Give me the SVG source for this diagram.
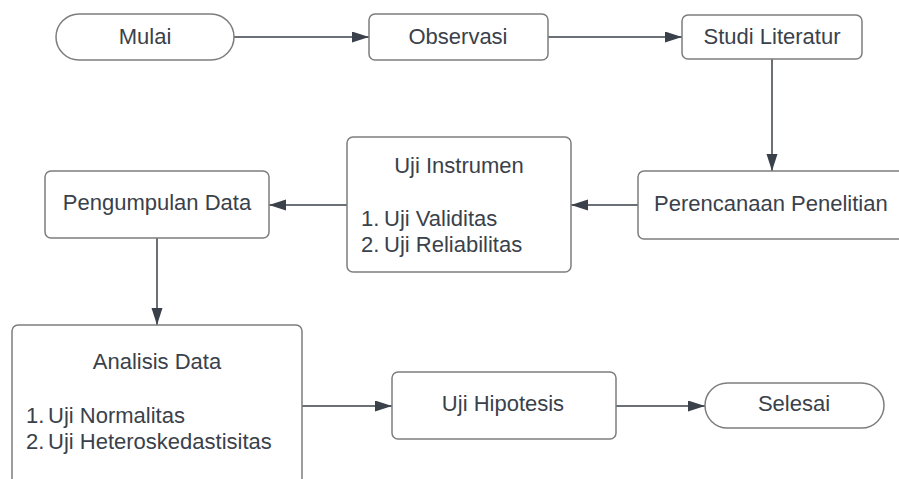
<svg xmlns="http://www.w3.org/2000/svg" width="899" height="479" viewBox="0 0 899 479">
<style>
.box{fill:#fff;stroke:#7d7d7d;stroke-width:1.5}
.t{font-family:"Liberation Sans",Arial,sans-serif;font-size:22px;fill:#3a414a}
.c{text-anchor:middle}
.ln{fill:none;stroke:#3a414a;stroke-width:1.5}
</style>
<defs>
<marker id="ah" markerUnits="userSpaceOnUse" markerWidth="18" markerHeight="12" refX="17" refY="5.5" orient="auto">
<path d="M0,0 L17,5.5 L0,11 Z" fill="#3a414a"/>
</marker>
</defs>
<rect width="899" height="479" fill="#fff"/>
<g id="connectors">
<line class="ln" x1="234" y1="37" x2="369" y2="37" marker-end="url(#ah)"/>
<line class="ln" x1="548" y1="37" x2="682" y2="37" marker-end="url(#ah)"/>
<line class="ln" x1="772" y1="59" x2="772" y2="171" marker-end="url(#ah)"/>
<line class="ln" x1="638" y1="205" x2="571" y2="205" marker-end="url(#ah)"/>
<line class="ln" x1="347" y1="205" x2="269" y2="205" marker-end="url(#ah)"/>
<line class="ln" x1="157" y1="238" x2="157" y2="325" marker-end="url(#ah)"/>
<line class="ln" x1="302" y1="406" x2="392" y2="406" marker-end="url(#ah)"/>
<line class="ln" x1="616" y1="406" x2="705" y2="406" marker-end="url(#ah)"/>
</g>
<g id="mulai">
<rect class="box" x="56" y="14" width="178" height="46" rx="23" ry="23"/>
<text class="t c" x="145" y="44">Mulai</text>
</g>
<g id="observasi">
<rect class="box" x="369" y="14" width="179" height="46" rx="6"/>
<text class="t c" x="458" y="44">Observasi</text>
</g>
<g id="studi-literatur">
<rect class="box" x="682" y="15" width="180" height="44" rx="6"/>
<text class="t c" x="772" y="44">Studi Literatur</text>
</g>
<g id="perencanaan">
<rect class="box" x="638" y="171" width="275" height="68" rx="6"/>
<text class="t" x="654" y="211">Perencanaan Penelitian</text>
</g>
<g id="uji-instrumen">
<rect class="box" x="347" y="137" width="224" height="135" rx="6"/>
<text class="t c" x="459" y="173">Uji Instrumen</text>
<text class="t" x="361" y="226">1.</text><text class="t" x="384" y="226">Uji Validitas</text>
<text class="t" x="361" y="252">2.</text><text class="t" x="384" y="252">Uji Reliabilitas</text>
</g>
<g id="pengumpulan">
<rect class="box" x="45" y="171" width="224" height="67" rx="6"/>
<text class="t c" x="157" y="210">Pengumpulan Data</text>
</g>
<g id="analisis">
<rect class="box" x="12" y="325" width="290" height="170" rx="6"/>
<text class="t c" x="157" y="369">Analisis Data</text>
<text class="t" x="26" y="423">1.</text><text class="t" x="48" y="423">Uji Normalitas</text>
<text class="t" x="26" y="449">2.</text><text class="t" x="48" y="449">Uji Heteroskedastisitas</text>
</g>
<g id="uji-hipotesis">
<rect class="box" x="392" y="372" width="224" height="67" rx="6"/>
<text class="t c" x="503" y="411">Uji Hipotesis</text>
</g>
<g id="selesai">
<rect class="box" x="705" y="383" width="179" height="45" rx="22.5" ry="22.5"/>
<text class="t c" x="794" y="411">Selesai</text>
</g>
</svg>
